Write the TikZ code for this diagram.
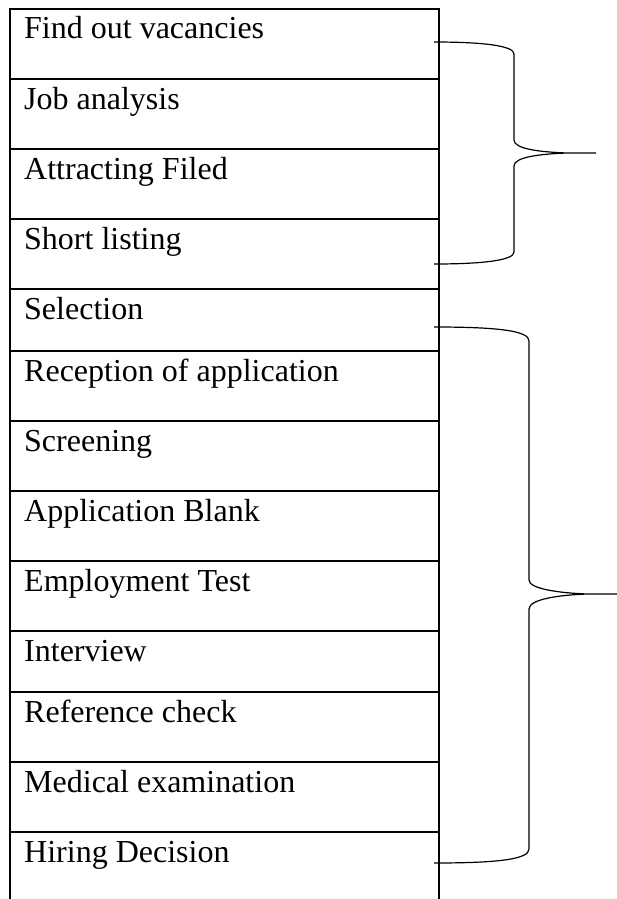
\documentclass[tikz,border=0pt]{standalone}
\usepackage{fontspec}
\setmainfont{Liberation Serif}
\begin{document}
\begin{tikzpicture}[x=1pt,y=-1pt,
  rowline/.style={line width=1.4pt},
  bracepath/.style={line width=1.2pt},
  label/.style={anchor=base west,inner sep=0pt,font=\fontsize{32}{36}\selectfont}]
\useasboundingbox (0,0) rectangle (617,899);
% frame
\draw[rowline] (10,899) -- (10,9) -- (439,9) -- (439,899);
\foreach \y in {79,149,219,289,351,421,491,561,631,692,762,832}
  \draw[rowline] (10,\y) -- (439,\y);
% labels
\node[label] (r1) at (24,39) {Find out vacancies};
\node[label] (r2) at (24,109) {Job analysis};
\node[label] (r3) at (24,179) {Attracting Filed};
\node[label] (r4) at (24,249) {Short listing};
\node[label] (r5) at (24,319) {Selection};
\node[label] (r6) at (24,381) {Reception of application};
\node[label] (r7) at (24,451) {Screening};
\node[label] (r8) at (24,521) {Application Blank};
\node[label] (r9) at (24,591) {Employment Test};
\node[label] (r10) at (24,661) {Interview};
\node[label] (r11) at (24,722) {Reference check};
\node[label] (r12) at (24,792) {Medical examination};
\node[label] (r13) at (24,862) {Hiring Decision};
% braces
\coordinate (b1top) at (434,42);
\coordinate (b1tip) at (596,153);
\coordinate (b1bot) at (434,264);
\draw[bracepath] (b1top) .. controls (485,42) and (514,46) .. (514,54) -- (514,140)
  .. controls (514,149) and (540,152) .. (567,153) -- (b1tip) -- (567,153)
  .. controls (540,154) and (514,157) .. (514,166) -- (514,252)
  .. controls (514,260) and (485,264) .. (b1bot);
\coordinate (b2top) at (434,327);
\coordinate (b2tip) at (617,594);
\coordinate (b2bot) at (434,863);
\draw[bracepath] (b2top) .. controls (500,327) and (529,331) .. (529,341) -- (529,580)
  .. controls (529,589) and (560,593) .. (587,594) -- (b2tip) -- (587,594)
  .. controls (560,595) and (529,599) .. (529,609) -- (529,849)
  .. controls (529,859) and (500,863) .. (b2bot);
\end{tikzpicture}
\end{document}
